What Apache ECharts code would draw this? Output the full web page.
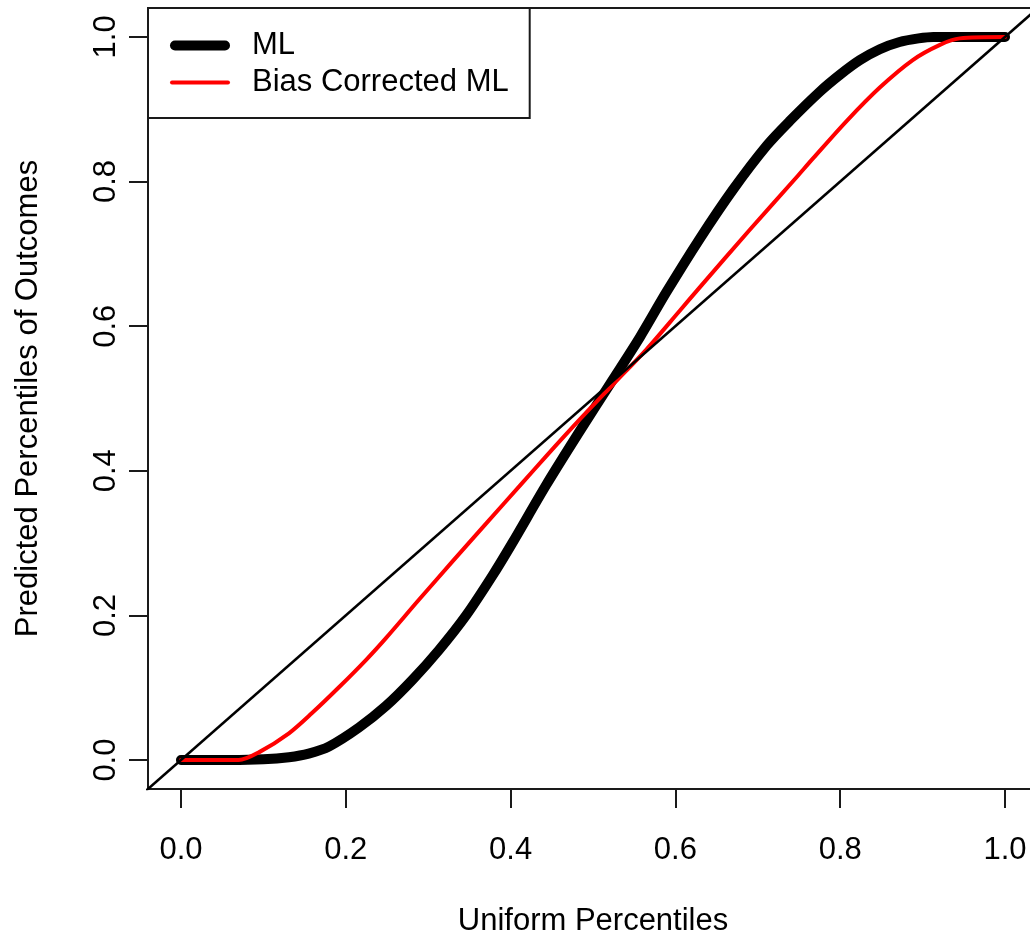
<!DOCTYPE html>
<html>
<head>
<meta charset="utf-8">
<script src="https://cdn.jsdelivr.net/npm/echarts@6/dist/echarts.min.js"></script>
<style>html,body{margin:0;padding:0;background:#fff;overflow:hidden;}#c{width:1030px;height:936px;}</style>
</head>
<body>
<div id="c"></div>
<script>
// Data
const mlX = [0, 0.06, 0.10, 0.131, 0.155, 0.18, 0.216, 0.249, 0.281, 0.313, 0.346, 0.378, 0.402, 0.443, 0.484, 0.524, 0.557, 0.589, 0.629, 0.670, 0.711, 0.739, 0.775, 0.80, 0.824, 0.848, 0.872, 0.895, 0.913, 0.96, 1.0];
const mlY = [0, 0, 0.001, 0.004, 0.009, 0.019, 0.045, 0.075, 0.111, 0.152, 0.200, 0.255, 0.300, 0.380, 0.455, 0.526, 0.585, 0.647, 0.720, 0.789, 0.850, 0.884, 0.924, 0.948, 0.968, 0.983, 0.993, 0.998, 1.0, 1.0, 1.0];
const redX = [0, 0.07, 0.095, 0.131, 0.159, 0.192, 0.225, 0.249, 0.289, 0.329, 0.371, 0.414, 0.443, 0.484, 0.524, 0.565, 0.605, 0.629, 0.690, 0.747, 0.767, 0.808, 0.848, 0.888, 0.921, 0.945, 1.0];
const redY = [0, 0, 0.011, 0.037, 0.065, 0.101, 0.139, 0.169, 0.222, 0.274, 0.328, 0.383, 0.420, 0.471, 0.519, 0.568, 0.621, 0.653, 0.733, 0.806, 0.832, 0.884, 0.930, 0.968, 0.989, 0.998, 1.0];
const diagX = [-0.1, 1.1];
const diagY = [-0.1, 1.1];
const xTicks = [0, 0.2, 0.4, 0.6, 0.8, 1.0];
const yTicks = [0, 0.2, 0.4, 0.6, 0.8, 1.0];
const seriesNames = ['ML', 'Bias Corrected ML'];
const xTitle = 'Uniform Percentiles';
const yTitle = 'Predicted Percentiles of Outcomes';

const pairs = (xs, ys) => xs.map((x, i) => [x, ys[i]]);
const FONT = "'Liberation Sans', Arial, sans-serif";

const chart = echarts.init(document.getElementById('c'), null, {renderer: 'canvas'});
chart.setOption({
  animation: false,
  backgroundColor: '#ffffff',
  grid: {
    left: 148, top: 8, width: 890, height: 781,
    outerBoundsMode: 'none', containLabel: false,
    show: true, borderColor: '#1a1a1a', borderWidth: 2, backgroundColor: 'transparent'
  },
  legend: {
    left: 148, top: 8,
    orient: 'vertical',
    data: [
      {name: seriesNames[0], icon: 'path://M5,0 L55,0 A5,5 0 0 1 55,10 L5,10 A5,5 0 0 1 5,0 Z', itemStyle: {color: '#000'}},
      {name: seriesNames[1], icon: 'path://M2,0 L58,0 A2,2 0 0 1 58,4 L2,4 A2,2 0 0 1 2,0 Z', itemStyle: {color: '#ff0000'}}
    ],
    itemWidth: 60, itemHeight: 14, itemGap: 0,
    padding: [19, 21, 17, 22],
    borderColor: '#1a1a1a', borderWidth: 2, backgroundColor: '#ffffff',
    textStyle: {fontFamily: FONT, fontSize: 31, color: '#000', lineHeight: 37, padding: [0, 0, 0, 17]}
  },
  xAxis: {
    type: 'value', min: -0.04, max: 1.04,
    splitLine: {show: false},
    axisLine: {show: false, onZero: false},
    axisTick: {show: true, customValues: xTicks, length: 19, lineStyle: {color: '#1a1a1a', width: 2}},
    axisLabel: {customValues: xTicks, formatter: v => v.toFixed(1), fontFamily: FONT, fontSize: 31, color: '#000', margin: 46},
    name: xTitle, nameLocation: 'middle', nameGap: 117,
    nameTextStyle: {fontFamily: FONT, fontSize: 31, color: '#000'}
  },
  yAxis: {
    type: 'value', min: -0.04, max: 1.04,
    splitLine: {show: false},
    axisLine: {show: false, onZero: false},
    axisTick: {show: true, customValues: yTicks, length: 19, lineStyle: {color: '#1a1a1a', width: 2}},
    axisLabel: {customValues: yTicks, formatter: v => v.toFixed(1), fontFamily: FONT, fontSize: 31, color: '#000', margin: 26, rotate: 90},
    name: yTitle, nameLocation: 'middle', nameGap: 104, nameRotate: 90,
    nameTextStyle: {fontFamily: FONT, fontSize: 31, color: '#000'}
  },
  series: [
    {
      name: seriesNames[0], type: 'line', data: pairs(mlX, mlY),
      showSymbol: false, symbol: 'none', smooth: 0.3,
      lineStyle: {color: '#000', width: 10, cap: 'round', join: 'round'},
      itemStyle: {color: '#000'}, z: 2
    },
    {
      name: seriesNames[1], type: 'line', data: pairs(redX, redY),
      showSymbol: false, symbol: 'none', smooth: 0.3,
      lineStyle: {color: '#ff0000', width: 4, cap: 'round', join: 'round'},
      itemStyle: {color: '#ff0000'}, z: 3
    },
    {
      name: 'diag', type: 'line', data: pairs(diagX, diagY),
      showSymbol: false, symbol: 'none',
      lineStyle: {color: '#000', width: 2.5},
      z: 4
    }
  ]
});
</script>
</body>
</html>
